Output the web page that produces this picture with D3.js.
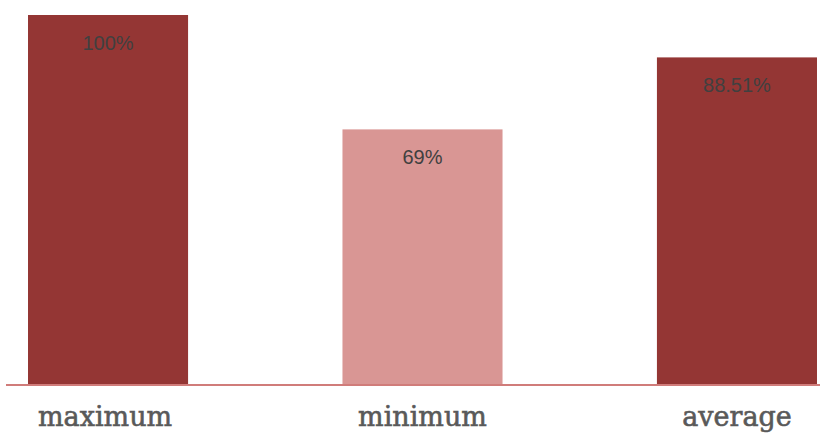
<!DOCTYPE html>
<html>
<head>
<meta charset="utf-8">
<script src="https://cdn.jsdelivr.net/npm/d3@7"></script>
<style>
  html, body { margin: 0; padding: 0; background: #ffffff; }
  svg { display: block; }
</style>
</head>
<body>
<svg id="chart" width="820" height="436"></svg>
<script>
// Summary statistics, in percent
const categories = ["maximum", "minimum", "average"];
const values = [100, 69, 88.51];
const valueLabels = ["100%", "69%", "88.51%"];
const barColors = ["#943634", "#D99694", "#943634"];

const svg = d3.select("#chart");

const x = d3.scaleBand()
  .domain(categories)
  .range([6, 839])
  .paddingInner(0.491)
  .paddingOuter(0.07);

const y = d3.scaleLinear()
  .domain([0, 100])
  .range([384, 15]);

const data = categories.map((c, i) => ({
  cat: c, value: values[i], label: valueLabels[i], color: barColors[i]
}));

// Bars
svg.append("g")
  .selectAll("rect")
  .data(data)
  .join("rect")
  .attr("x", d => x(d.cat))
  .attr("y", d => y(d.value))
  .attr("width", x.bandwidth())
  .attr("height", d => y(0) - y(d.value))
  .attr("fill", d => d.color);

// Value labels inside the top of each bar
svg.append("g")
  .selectAll("text")
  .data(data)
  .join("text")
  .attr("x", d => x(d.cat) + x.bandwidth() / 2)
  .attr("y", d => y(d.value) + 35)
  .attr("text-anchor", "middle")
  .attr("font-family", "'Liberation Sans', Arial, sans-serif")
  .attr("font-size", 20)
  .attr("fill", "#404040")
  .text(d => d.label);

// Baseline axis with category names
const axis = svg.append("g")
  .attr("transform", `translate(0,${y(0) + 1})`)
  .call(d3.axisBottom(x).tickSize(0).tickPadding(0));

axis.select(".domain")
  .attr("d", "M6,0H820")
  .attr("stroke", "#C0504D")
  .attr("stroke-opacity", 0.75)
  .attr("stroke-width", 2);

axis.selectAll(".tick text")
  .attr("y", 41)
  .attr("dy", 0)
  .attr("font-family", "'DejaVu Serif', Georgia, serif")
  .attr("font-size", 27)
  .attr("font-weight", "normal")
  .attr("fill", "#595959")
  .attr("stroke", "#595959")
  .attr("stroke-width", 0.6)
  .attr("dx", (d, i) => i === 0 ? -3 : 0);
</script>
</body>
</html>
